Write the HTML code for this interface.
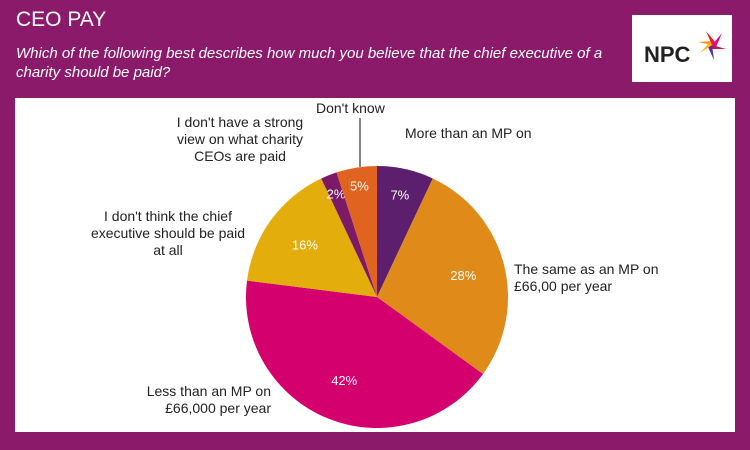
<!DOCTYPE html>
<html><head><meta charset="utf-8"><style>
body{margin:0;width:750px;height:450px;background:#8b1a6b;font-family:"Liberation Sans",sans-serif;overflow:hidden;position:relative}
.t{position:absolute;color:#fff}
</style></head><body>
<div class="t" style="left:16px;top:8px;font-size:21px">CEO PAY</div>
<div class="t" style="left:16px;top:44px;font-size:15px;font-style:italic;line-height:19px;width:590px">Which of the following best describes how much you believe that the chief executive of a charity should be paid?</div>
<div style="position:absolute;left:632px;top:15px;width:100px;height:67px;background:#fff">
<svg width="100" height="67"><text x="12" y="47" font-size="22" font-weight="bold" fill="#222" font-family="Liberation Sans">NPC</text>
<g transform="translate(80,30)"><path d="M0,0 L-14,-3 L0,-4Z" fill="#f7941d"/><path d="M0,0 L-6,-14 L3,-3Z" fill="#ed1c24"/><path d="M0,0 L10,-12 L4,2Z" fill="#ec008c"/><path d="M0,0 L14,4 L0,4Z" fill="#c2185b"/><path d="M0,0 L2,15 L-4,2Z" fill="#662d91"/><path d="M0,0 L-12,8 L-3,-2Z" fill="#fdb913"/></g></svg></div>
<div style="position:absolute;left:15px;top:98px;width:720px;height:334px;background:#fff"></div>
<svg id="chart" width="750" height="450" style="position:absolute;left:0;top:0"></svg>
<script>
const categories=["More than an MP on","The same as an MP on £66,00 per year","Less than an MP on £66,000 per year","I don't think the chief executive should be paid at all","I don't have a strong view on what charity CEOs are paid","Don't know"];
const values=[7,28,42,16,2,5];
const colors=["#5b1f6e","#e08a1a","#d4006e","#e3ae0c","#7d1a66","#e0641f"];
const labels=["7%","28%","42%","16%","2%","5%"];
const svg=document.getElementById('chart');const NS="http://www.w3.org/2000/svg";
const cx=377,cy=297,r=131;const total=values.reduce((a,b)=>a+b,0);
const lr=[0.8,0.68,0.68,0.68,0.85,0.86];
let a0=0;
values.forEach((v,i)=>{const a1=a0+v/total*2*Math.PI;
const p=(a)=>[cx+r*Math.sin(a),cy-r*Math.cos(a)];const s=p(a0),e=p(a1);
const path=document.createElementNS(NS,'path');
path.setAttribute('d',`M${cx},${cy}L${s[0]},${s[1]}A${r},${r} 0 ${a1-a0>Math.PI?1:0} 1 ${e[0]},${e[1]}Z`);
path.setAttribute('fill',colors[i]);


svg.appendChild(path);
const m=(a0+a1)/2;const t=document.createElementNS(NS,'text');
t.setAttribute('x',cx+r*lr[i]*Math.sin(m));t.setAttribute('y',cy-r*lr[i]*Math.cos(m)+5);
t.setAttribute('text-anchor','middle');t.setAttribute('fill','#fff');t.setAttribute('font-size','13');
t.setAttribute('font-family','Liberation Sans');t.textContent=labels[i];


svg.appendChild(t);a0=a1;});
</script>
<svg width="750" height="450" style="position:absolute;left:0;top:0"><line x1="360" y1="118" x2="360" y2="167" stroke="#333" stroke-width="1.2"/></svg>
<div style="position:absolute;font-size:14px;color:#222;line-height:17px">
</div>
<div class="t" style="color:#222;font-size:14px;left:316px;top:100px">Don't know</div>
<div class="t" style="color:#222;font-size:14px;line-height:17px;left:175px;top:114px;width:130px;text-align:center">I don't have a strong view on what charity CEOs are paid</div>
<div class="t" style="color:#222;font-size:14px;left:405px;top:125px">More than an MP on</div>
<div class="t" style="color:#222;font-size:14px;line-height:17px;left:514px;top:261px">The same as an MP on<br>£66,00 per year</div>
<div class="t" style="color:#222;font-size:14px;line-height:17px;left:131px;top:383px;text-align:right;width:140px">Less than an MP on<br>£66,000 per year</div>
<div class="t" style="color:#222;font-size:14px;line-height:17px;left:88px;top:208px;width:160px;text-align:center">I don't think the chief executive should be paid at all</div>
</body></html>
